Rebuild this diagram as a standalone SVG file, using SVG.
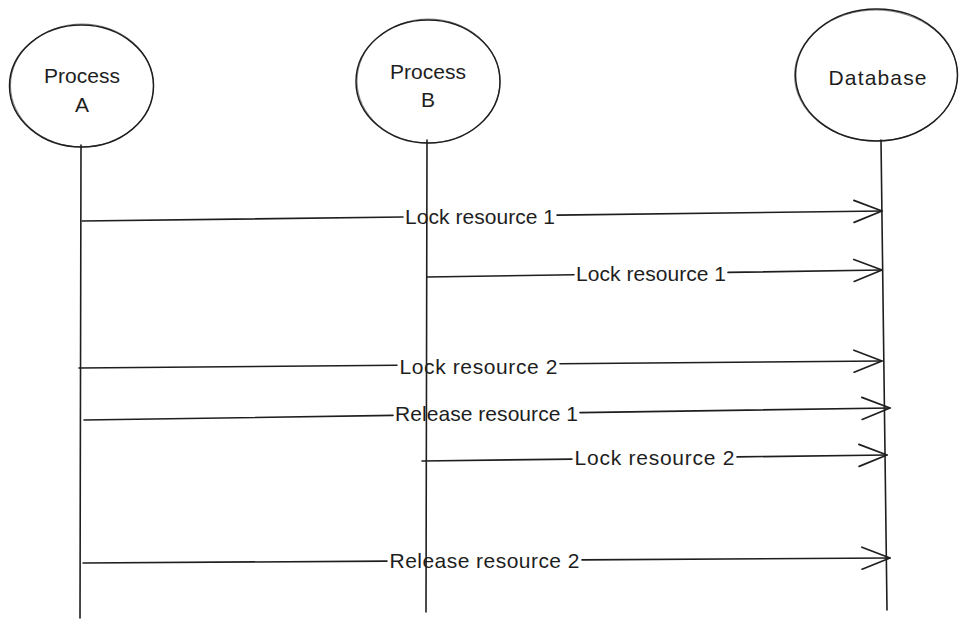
<svg xmlns="http://www.w3.org/2000/svg" width="968" height="629" viewBox="0 0 968 629">
<defs>
<style>
.shape{fill:none;stroke:#1e1e1e;stroke-width:1.5;stroke-linecap:round;stroke-linejoin:round}
.sketch{fill:none;stroke:#1e1e1e;stroke-width:0.8;opacity:0.7}
.life{fill:none;stroke:#1e1e1e;stroke-width:1.6;stroke-linecap:round}
.conn{fill:none;stroke:#1e1e1e;stroke-width:1.6;stroke-linecap:round}
.lbl{font-family:"Liberation Sans",Arial,sans-serif;font-size:21px;fill:#1e1e1e;text-anchor:middle;dominant-baseline:central}
</style>
<marker id="head" markerUnits="userSpaceOnUse" markerWidth="34" markerHeight="28" refX="29" refY="12" orient="auto">
<path d="M1,1 L29,12 L1,23" fill="none" stroke="#1e1e1e" stroke-width="1.7" stroke-linecap="round" stroke-linejoin="round"/>
</marker>
</defs>
<rect width="968" height="629" fill="#ffffff"/>

<g id="connectors">
<g id="msg1">
<path class="conn" d="M82,221 L403,217"/>
<path class="conn" d="M557,215.1 L882,211" marker-end="url(#head)"/>
<text class="lbl" x="480" y="216" textLength="150" lengthAdjust="spacing">Lock resource 1</text>
</g>
<g id="msg2">
<path class="conn" d="M427,277 L574,274.7"/>
<path class="conn" d="M728,272.4 L882,270" marker-end="url(#head)"/>
<text class="lbl" x="651" y="273" textLength="150" lengthAdjust="spacing">Lock resource 1</text>
</g>
<g id="msg3">
<path class="conn" d="M79,368 L397,365.2"/>
<path class="conn" d="M560,363.8 L882,361" marker-end="url(#head)"/>
<text class="lbl" x="478.5" y="366" textLength="158" lengthAdjust="spacing">Lock resource 2</text>
</g>
<g id="msg4">
<path class="conn" d="M84,420 L393,415.4"/>
<path class="conn" d="M580,412.6 L890,408" marker-end="url(#head)"/>
<text class="lbl" x="486.5" y="413" textLength="183" lengthAdjust="spacing">Release resource 1</text>
</g>
<g id="msg5">
<path class="conn" d="M422,461 L572,459.1"/>
<path class="conn" d="M737,456.9 L887,455" marker-end="url(#head)"/>
<text class="lbl" x="654.5" y="457" textLength="160" lengthAdjust="spacing">Lock resource 2</text>
</g>
<g id="msg6">
<path class="conn" d="M83,563 L387,561.1"/>
<path class="conn" d="M582,559.9 L890,558" marker-end="url(#head)"/>
<text class="lbl" x="484.5" y="560" textLength="190" lengthAdjust="spacing">Release resource 2</text>
</g>
</g>

<g id="processA">
<ellipse class="shape" cx="81.5" cy="86" rx="72" ry="61"/>
<ellipse class="sketch" cx="82" cy="85.5" rx="71.5" ry="61.5"/>
<text class="lbl" x="82" y="75">Process</text>
<text class="lbl" x="82" y="104">A</text>
<path class="life" d="M81,145 L80,618"/>
</g>

<g id="processB">
<ellipse class="shape" cx="428" cy="81.5" rx="72" ry="61.5"/>
<ellipse class="sketch" cx="428.5" cy="81" rx="71.5" ry="62"/>
<text class="lbl" x="428" y="71">Process</text>
<text class="lbl" x="428" y="99">B</text>
<path class="life" d="M427,140 L426,612"/>
</g>

<g id="database">
<ellipse class="shape" cx="876.5" cy="75" rx="81" ry="66"/>
<ellipse class="sketch" cx="876" cy="75.5" rx="81.5" ry="65.5"/>
<text class="lbl" x="877.5" y="77" textLength="98" lengthAdjust="spacing">Database</text>
<path class="life" d="M881,140 L887,610"/>
</g>
</svg>
